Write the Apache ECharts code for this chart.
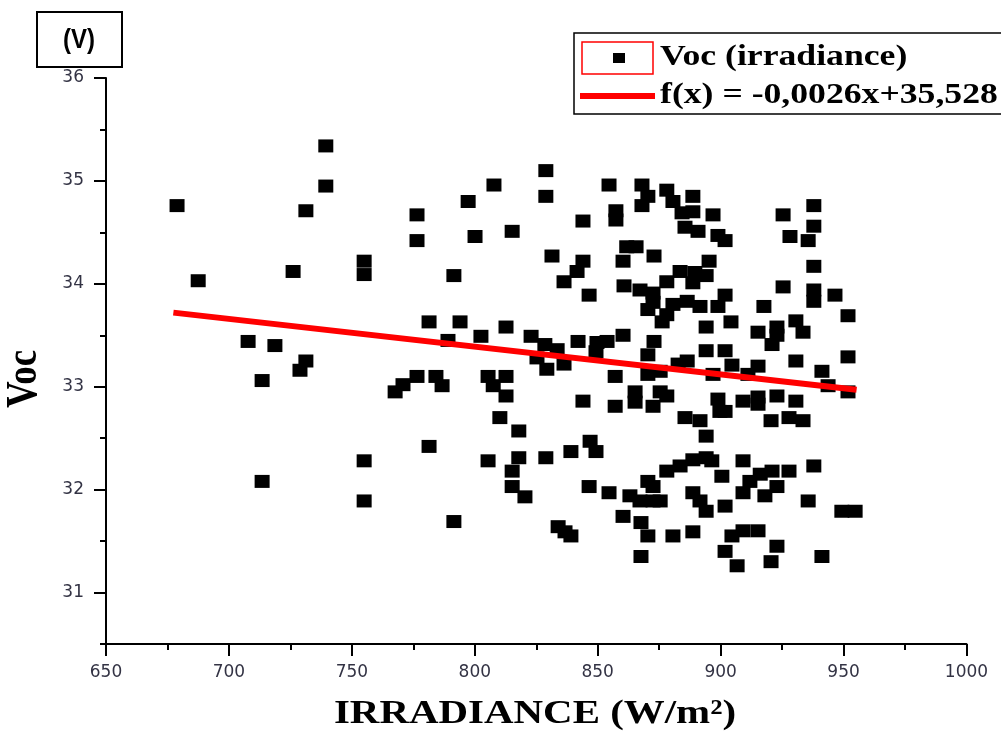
<!DOCTYPE html>
<html><head><meta charset="utf-8">
<script src="https://cdn.jsdelivr.net/npm/echarts@6/dist/echarts.min.js"></script>
<style>html,body{margin:0;padding:0;background:#fff}#c{width:1001px;height:735px}</style>
</head><body><div id="c"></div>
<script>
// Irradiance (W/m²) and Voc (V) of each measured point
const irradiance = [
739.4,739.4,678.9,731.3,687.5,726.1,755.0,755.0,707.8,718.7,731.3,728.9,713.5,755.0,713.5,755.0,
828.9,807.8,797.3,776.5,776.5,828.9,854.6,868.0,857.4,857.4,868.0,844.0,800.1,815.2,831.4,844.0,
841.6,836.3,791.5,861.8,865.6,860.3,860.7,867.2,846.5,781.4,794.0,812.7,802.5,789.1,822.9,828.5,
833.5,825.3,842.0,849.7,853.8,860.3,849.3,836.3,829.3,857.1,865.2,865.2,844.0,857.1,776.5,770.8,
767.6,784.2,786.7,805.4,807.5,812.7,812.7,810.2,817.9,781.4,805.4,817.9,815.2,815.2,820.4,828.9,
839.1,846.9,849.3,846.5,854.6,863.1,867.2,860.3,867.6,791.5,833.9,836.7,839.1,867.6,
870.4,878.1,880.6,888.7,884.3,888.7,885.5,890.8,896.9,898.9,901.8,925.4,937.9,937.9,928.2,935.6,
937.9,925.4,937.9,937.9,946.5,951.8,951.8,872.9,895.3,883.5,889.5,894.1,888.7,878.1,872.5,872.5,
870.4,876.2,878.1,880.6,886.4,891.6,901.8,898.9,904.2,894.1,917.6,915.2,922.9,920.9,922.9,930.6,
933.5,872.9,894.1,901.8,870.4,886.4,930.6,904.6,915.2,882.7,870.4,875.4,896.9,911.1,941.2,943.7,
951.8,875.4,878.1,872.5,898.9,899.7,901.8,909.1,915.2,915.2,922.9,930.6,885.5,891.6,920.5,927.8,
933.5,894.1,894.1,888.7,896.4,878.1,883.5,900.5,909.1,920.9,916.1,911.9,927.8,937.9,870.4,872.5,
922.9,918.0,909.1,888.7,891.6,894.1,872.5,875.4,901.8,935.6,949.3,954.7,870.4,880.6,888.7,904.6,
909.1,915.2,901.8,922.9,906.7,920.5,941.2
];
const voc = [
35.34,34.95,34.76,34.71,34.03,34.12,34.22,34.09,33.44,33.40,33.25,33.16,33.06,32.28,32.08,31.89,
35.10,34.96,34.80,34.67,34.42,34.85,34.96,34.96,34.71,34.62,34.76,34.61,34.46,34.51,34.27,34.22,
34.12,34.02,34.08,34.36,34.36,34.22,33.98,33.94,33.89,33.63,33.63,33.58,33.49,33.45,33.49,33.41,
33.36,33.28,33.44,33.43,33.44,33.50,33.34,33.22,33.17,33.10,32.95,32.85,32.86,32.81,33.10,33.02,
32.95,33.10,33.01,33.10,33.01,33.10,32.91,32.70,32.57,32.42,32.28,32.31,32.18,32.03,31.93,32.31,
32.37,32.47,32.37,32.03,31.97,31.94,31.89,31.74,31.68,31.69,31.64,31.59,31.55,31.35,
34.85,34.91,34.80,34.85,34.69,34.70,34.55,34.51,34.67,34.47,34.42,34.67,34.76,34.56,34.46,34.42,
34.17,33.97,33.94,33.83,33.89,33.69,33.29,34.27,34.22,34.12,34.11,34.08,34.01,34.02,33.91,33.82,
33.75,33.63,33.70,33.80,33.83,33.78,33.89,33.78,33.63,33.58,33.78,33.53,33.58,33.41,33.50,33.64,
33.53,33.44,33.35,33.35,33.31,33.25,33.25,33.21,33.20,33.22,33.12,33.15,33.12,33.12,33.15,33.01,
32.95,32.95,32.91,32.81,32.88,32.76,32.76,32.86,32.90,32.83,32.91,32.86,32.70,32.67,32.67,32.70,
32.67,32.52,32.31,32.29,32.28,32.18,32.23,32.13,32.28,32.18,32.15,32.08,32.18,32.23,32.08,32.03,
32.03,31.94,31.97,31.97,31.89,31.79,31.89,31.89,31.84,31.89,31.79,31.79,31.55,31.55,31.59,31.55,
31.60,31.60,31.40,31.45,31.26,31.30,31.35
];
// Fitted line as drawn: f(x) = -0,0026x+35,528
const trendX = [677.4, 955.3];
const trendY = [33.72, 32.97];
// Axis ticks
const xMin = 650, xMax = 1000, xStep = 50;
const yMin = 30.5, yMax = 36;
const yMajorTicks = [31, 32, 33, 34, 35, 36];
const yMinorTicks = [30.5, 31.5, 32.5, 33.5, 34.5, 35.5];
// Texts
const xTitle = 'IRRADIANCE (W/m²)';
const yTitle = 'Voc';
const unitLabel = '(V)';
const legendScatter = 'Voc (irradiance)';
const legendLine = 'f(x) = -0,0026x+35,528';

const scatterData = irradiance.map((x, i) => [x, voc[i]]);
const trendData = trendX.map((x, i) => [x, trendY[i]]);

const labelStyle = {color: '#333344', fontFamily: 'DejaVu Sans', fontSize: 17};
const serifBold = 'bold {S}px "Liberation Serif", "Times New Roman", serif';
function sf(s){ return serifBold.replace('{S}', s); }
const plain = v => String(v);

const chart = echarts.init(document.getElementById('c'), null, {renderer: 'canvas'});
chart.setOption({
  animation: false,
  backgroundColor: '#fff',
  grid: {left: 106, right: 34.5, top: 78, bottom: 91, outerBoundsMode: 'none', containLabel: false},
  xAxis: {
    type: 'value', min: xMin, max: xMax, interval: xStep,
    axisLine: {show: true, onZero: false, lineStyle: {color: '#000', width: 2}},
    axisTick: {show: true, inside: false, length: 12, lineStyle: {color: '#000', width: 2}},
    minorTick: {show: true, splitNumber: 2, length: 6, lineStyle: {color: '#000', width: 2}},
    splitLine: {show: false}, minorSplitLine: {show: false},
    axisLabel: Object.assign({margin: 20, formatter: plain}, labelStyle)
  },
  yAxis: [{
    type: 'value', min: yMin, max: yMax, position: 'left',
    axisLine: {show: true, onZero: false, lineStyle: {color: '#000', width: 2}},
    axisTick: {show: true, inside: false, length: 12, customValues: yMajorTicks, lineStyle: {color: '#000', width: 2}},
    axisLabel: Object.assign({margin: 22, customValues: yMajorTicks, formatter: plain}, labelStyle),
    splitLine: {show: false}
  }, {
    type: 'value', min: yMin, max: yMax, position: 'left',
    axisLine: {show: false},
    axisTick: {show: true, inside: false, length: 6, customValues: yMinorTicks, lineStyle: {color: '#000', width: 2}},
    axisLabel: {show: false},
    splitLine: {show: false}
  }],
  series: [{
    name: legendScatter, type: 'scatter', data: scatterData,
    symbol: 'rect', symbolSize: [15, 13],
    itemStyle: {color: '#000', opacity: 1}, z: 2
  }, {
    name: legendLine, type: 'line', data: trendData,
    showSymbol: false, symbol: 'none',
    lineStyle: {color: '#ff0000', width: 6}, z: 3
  }],
  graphic: [
    {type: 'rect', shape: {x: 37, y: 12, width: 85, height: 55}, style: {fill: '#fff', stroke: '#000', lineWidth: 2}},
    {type: 'text', x: 79, y: 40, scaleY: 1.15, style: {text: unitLabel, font: 'bold 24px "Liberation Sans", Arial, sans-serif', fill: '#000', textAlign: 'center', textVerticalAlign: 'middle'}},
    {type: 'rect', shape: {x: 574, y: 33, width: 440, height: 81}, style: {fill: '#fff', stroke: '#000', lineWidth: 1.5}, z: 10},
    {type: 'rect', shape: {x: 582, y: 42, width: 71, height: 32}, style: {fill: '#fff', stroke: '#ff0000', lineWidth: 1.5}, z: 11},
    {type: 'rect', shape: {x: 613, y: 53, width: 12, height: 10}, style: {fill: '#000'}, z: 11},
    {type: 'line', shape: {x1: 580, y1: 96, x2: 655, y2: 96}, style: {stroke: '#ff0000', lineWidth: 6}, z: 11},
    {type: 'text', x: 660, y: 58, scaleX: 1.23, z: 11, style: {text: legendScatter, font: sf(29), fill: '#000', textAlign: 'left', textVerticalAlign: 'middle'}},
    {type: 'text', x: 660, y: 96, scaleX: 1.23, z: 11, style: {text: legendLine, font: sf(29), fill: '#000', textAlign: 'left', textVerticalAlign: 'middle'}},
    {type: 'text', x: 535, y: 714, scaleX: 1.24, style: {text: xTitle, font: sf(33), fill: '#000', textAlign: 'center', textVerticalAlign: 'middle'}},
    {type: 'text', x: 25, y: 379, rotation: Math.PI / 2, scaleY: 1.18, style: {text: yTitle, font: sf(37), fill: '#000', textAlign: 'center', textVerticalAlign: 'middle'}}
  ]
});
</script>
</body></html>
